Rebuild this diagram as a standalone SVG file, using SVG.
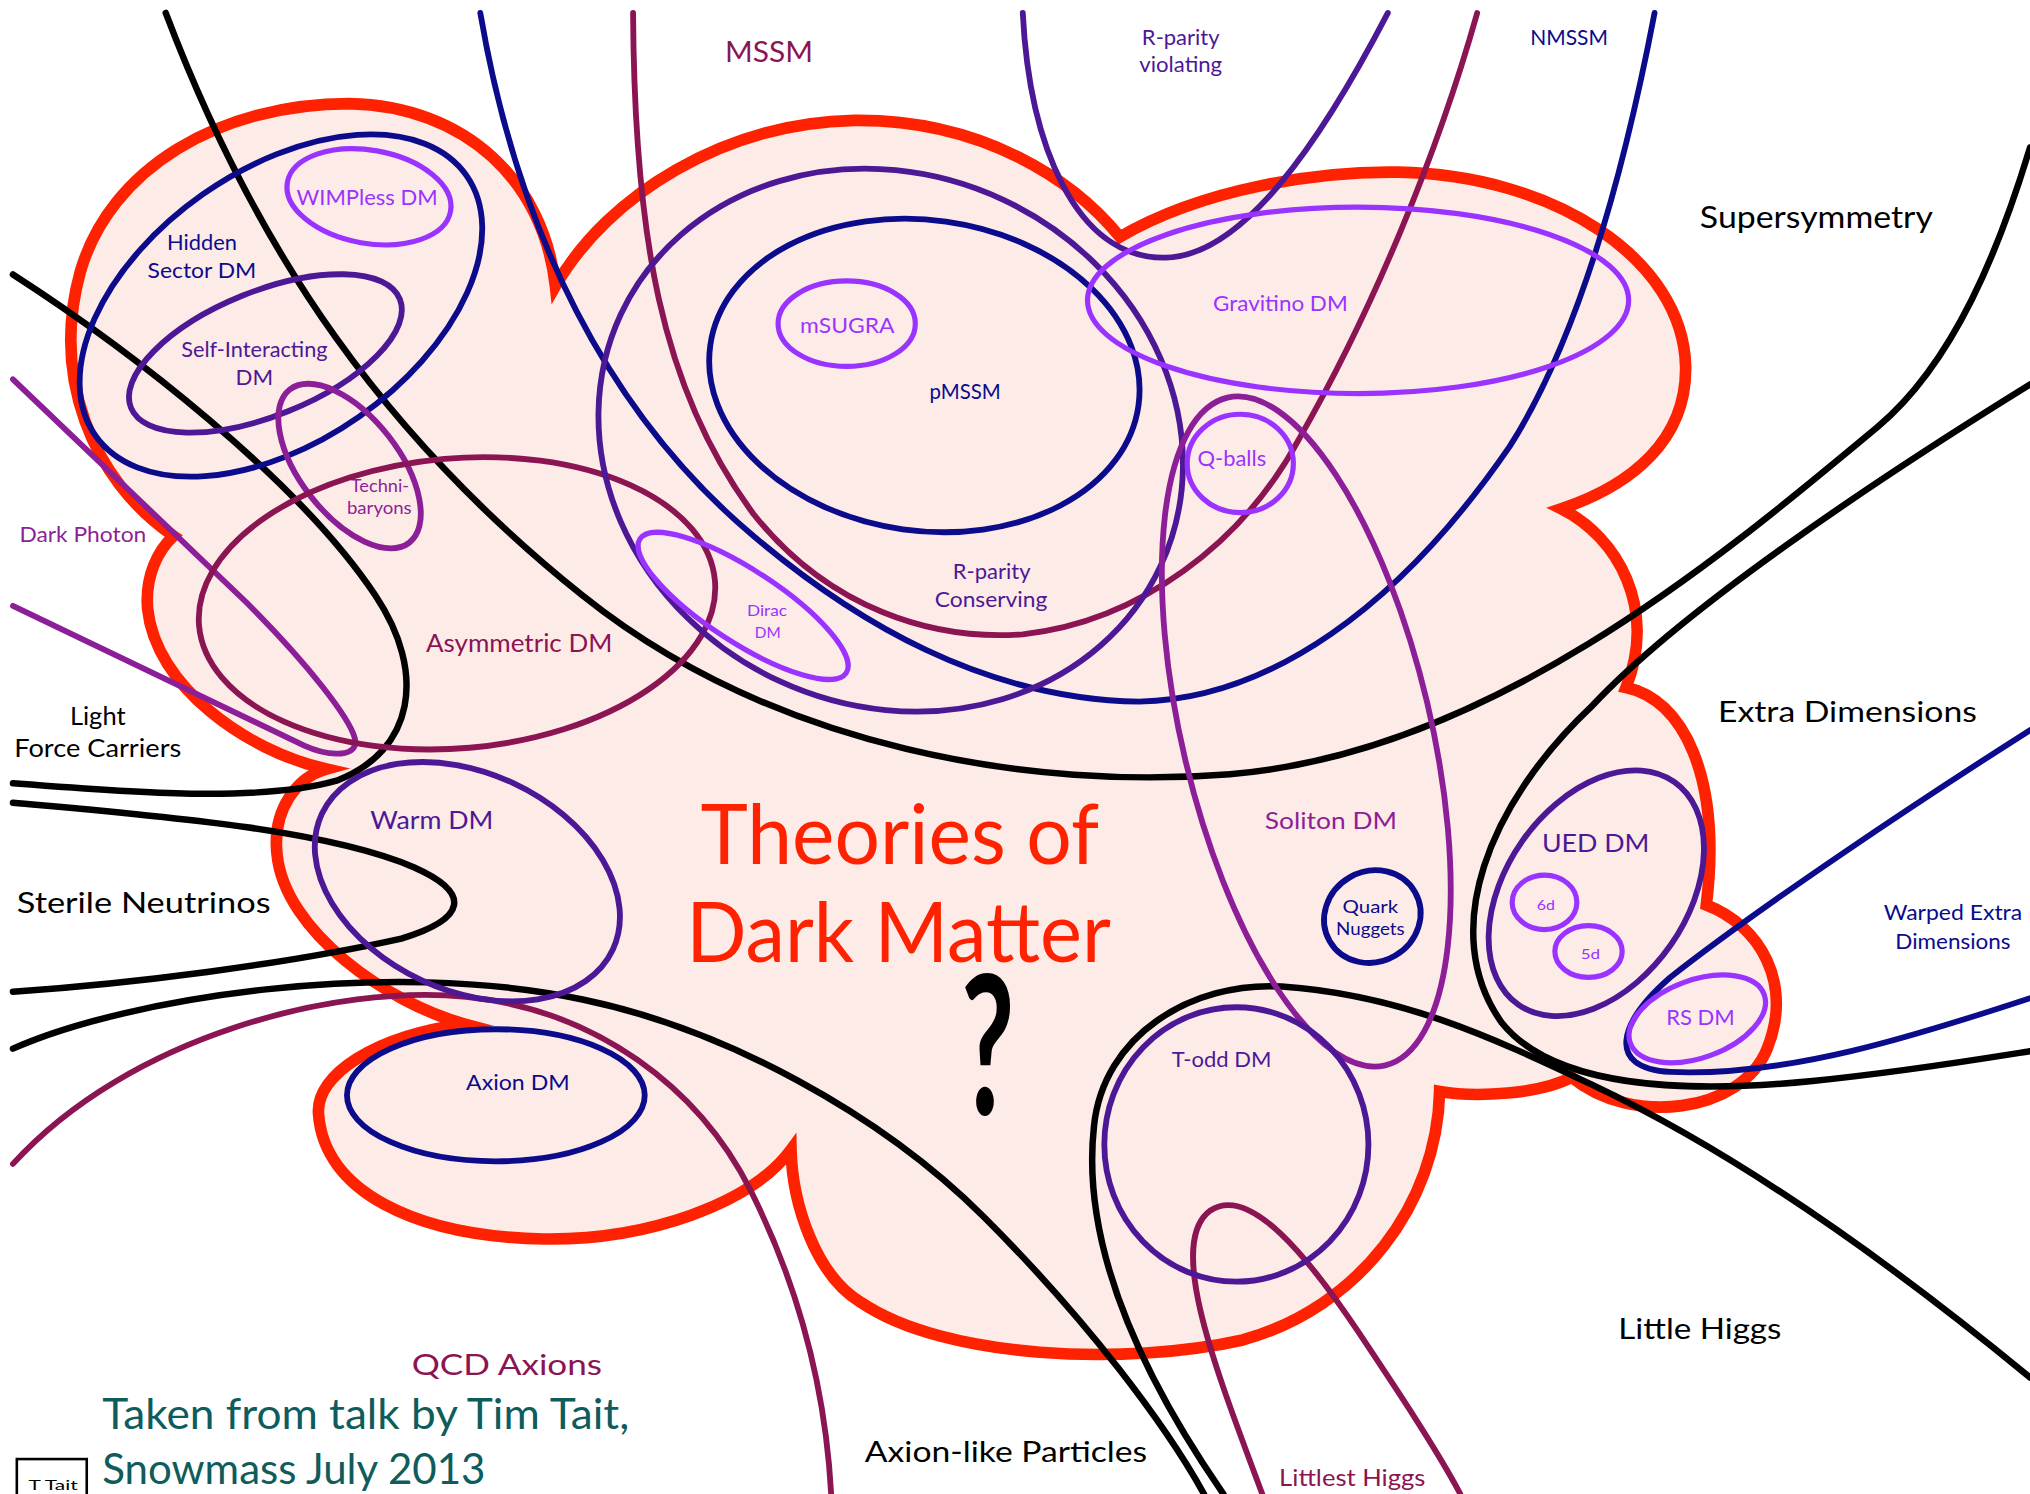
<svg xmlns="http://www.w3.org/2000/svg" width="2030" height="1494" viewBox="0 0 2030 1494">
<style>
text{font-family:Lato,"Open Sans","Liberation Sans",sans-serif}
.ln{fill:none;stroke-width:4.5;stroke-linecap:round}
.k{stroke:#000;stroke-width:5}
.nv{stroke:#0b0b8c}
.in{stroke:#4c1896}
.vi{stroke:#9a33ff;stroke-width:4}
.mg{stroke:#8c1f98}
.mr{stroke:#8b1452}
.tk{fill:#000}
.tnv{fill:#0b0b8c}
.tin{fill:#4c1896}
.tvi{fill:#9a33ff}
.tmg{fill:#8c1f98}
.tmr{fill:#8b1452}
.cloud{fill:#fdebe7;stroke:#ff2200;stroke-width:9;stroke-linejoin:miter;stroke-miterlimit:20}
</style>
<rect width="2030" height="1494" fill="#fff"/>
<g transform="scale(1.29464)">
<g id="cloud">
<path class="cloud" d="M134,414 C70,370 40,290 62,210 C85,130 170,80 270,80 C360,82 420,140 429,221 C470,150 560,95 660,93 C760,92 830,140 865,183 C930,145 1020,132 1080,133 C1200,135 1300,200 1302,283 C1303,340 1260,375 1206,393 C1250,415 1280,470 1256,531 C1300,540 1330,600 1318,699 C1360,715 1385,760 1365,810 C1345,860 1260,870 1214,832 C1190,845 1140,848 1112,843 C1110,930 1050,1010 960,1035 C870,1055 730,1050 665,1006 C630,985 612,930 611,888 C580,930 500,958 420,957 C320,955 250,920 246,860 C244,830 290,800 359,791 C300,775 220,720 214,660 C210,625 230,600 252,594 C190,580 120,530 114,470 C112,445 122,425 134,414 Z"/>
</g>
<g id="connectors">
<path id="supersymmetry-line" class="ln k" d="M128,10 C200,200 300,340 450,460 C600,580 800,610 950,598 C1150,582 1330,430 1450,330 C1510,280 1545,190 1568,114"/>
<path id="light-force-line" class="ln k" d="M10,212 C100,270 230,370 290,460 C330,520 320,580 260,603 C200,620 100,612 10,605"/>
<path id="sterile-line" class="ln k" d="M10,620 C120,630 250,640 320,670 C365,690 360,710 310,725 C220,745 100,760 10,766"/>
<path id="axion-like-line" class="ln k" d="M10,810 C100,770 300,740 450,772 C560,795 680,860 760,940 C840,1020 900,1100 930,1154"/>
<path id="little-higgs-line" class="ln k" d="M945,1154 C880,1060 835,960 845,870 C852,800 920,758 990,762 C1080,768 1150,800 1230,838 C1340,890 1460,975 1568,1064"/>
<path id="extra-dim-line" class="ln k" d="M1568,297 C1450,370 1300,470 1230,545 C1150,620 1110,720 1160,790 C1200,840 1300,845 1400,835 C1470,828 1530,818 1568,812"/>
<path id="nmssm-line" class="ln nv" d="M371,10 C400,180 470,320 582,414 C660,480 760,540 880,542 C980,540 1080,470 1166,345 C1220,260 1255,130 1278,10"/>
<path id="mssm-line" class="ln mr" d="M489,10 C490,180 510,300 582,397 C640,470 720,495 790,490 C880,480 960,420 1004,338 C1060,240 1110,120 1141,10"/>
<path id="rpv-line" class="ln in" d="M790,10 C795,110 830,200 900,199 C960,198 1020,110 1072,10"/>
<path id="dark-photon-line" class="ln mg" d="M10,293 L190,465 C240,515 270,555 274,570 C278,585 255,585 235,576 L10,468"/>
<path id="qcd-axion-line" class="ln mr" d="M10,899 C100,800 260,760 360,770 C460,780 540,840 580,920 C620,1000 638,1080 642,1154"/>
<path id="littlest-higgs-line" class="ln mr" d="M975,1154 C940,1060 900,960 935,935 C965,915 1010,970 1050,1030 C1080,1075 1110,1120 1128,1154"/>
<path id="warped-line" class="ln nv" d="M1568,564 C1480,620 1360,700 1290,755 C1250,790 1240,825 1290,828 C1380,832 1480,800 1568,771"/>
</g>
<g id="hidden-sector"><ellipse class="ln nv" cx="217" cy="236" rx="175" ry="105" transform="rotate(-35 217 236)"/>
<text class="tnv" x="129" y="193" font-size="17" textLength="54" lengthAdjust="spacingAndGlyphs">Hidden</text>
<text class="tnv" x="114" y="215" font-size="17" textLength="84" lengthAdjust="spacingAndGlyphs">Sector DM</text></g>
<g id="wimpless"><ellipse class="ln vi" cx="285" cy="152" rx="64" ry="36" transform="rotate(10 285 152)"/>
<text class="tvi" x="229" y="158" font-size="17" textLength="109" lengthAdjust="spacingAndGlyphs">WIMPless DM</text></g>
<g id="self-interacting"><ellipse class="ln in" cx="205" cy="273" rx="112" ry="48" transform="rotate(-22 205 273)"/>
<text class="tin" x="140" y="276" font-size="16" textLength="113" lengthAdjust="spacingAndGlyphs">Self-Interacting</text>
<text class="tin" x="182" y="297" font-size="16" textLength="29" lengthAdjust="spacingAndGlyphs">DM</text></g>
<g id="technibaryons"><ellipse class="ln mg" cx="270" cy="360" rx="75" ry="38" transform="rotate(52 270 360)"/>
<text class="tmg" x="271" y="380" font-size="13" textLength="45" lengthAdjust="spacingAndGlyphs">Techni-</text>
<text class="tmg" x="268" y="397" font-size="13" textLength="50" lengthAdjust="spacingAndGlyphs">baryons</text></g>
<g id="asymmetric"><ellipse class="ln mr" cx="353" cy="466" rx="200" ry="112" transform="rotate(-5 353 466)"/>
<text class="tmr" x="329" y="504" font-size="19" textLength="144" lengthAdjust="spacingAndGlyphs">Asymmetric DM</text></g>
<g id="rparity-conserving"><ellipse class="ln in" cx="688" cy="340" rx="230" ry="205" transform="rotate(25 688 340)"/>
<text class="tin" x="736" y="447" font-size="17" textLength="60" lengthAdjust="spacingAndGlyphs">R-parity</text>
<text class="tin" x="722" y="469" font-size="17" textLength="87" lengthAdjust="spacingAndGlyphs">Conserving</text></g>
<g id="pmssm"><ellipse class="ln nv" cx="714" cy="290" rx="167" ry="120" transform="rotate(8 714 290)"/>
<text class="tnv" x="718" y="308" font-size="16" textLength="55" lengthAdjust="spacingAndGlyphs">pMSSM</text></g>
<g id="msugra"><ellipse class="ln vi" cx="654" cy="250" rx="53" ry="33"/>
<text class="tvi" x="618" y="257" font-size="17" textLength="73" lengthAdjust="spacingAndGlyphs">mSUGRA</text></g>
<g id="gravitino"><ellipse class="ln vi" cx="1049" cy="232" rx="209" ry="72"/>
<text class="tvi" x="937" y="240" font-size="17" textLength="104" lengthAdjust="spacingAndGlyphs">Gravitino DM</text></g>
<g id="qballs"><ellipse class="ln vi" cx="958" cy="358" rx="41" ry="38"/>
<text class="tvi" x="925" y="360" font-size="16" textLength="53" lengthAdjust="spacingAndGlyphs">Q-balls</text></g>
<g id="dirac"><ellipse class="ln vi" cx="574" cy="468" rx="95" ry="28" transform="rotate(33 574 468)"/>
<text class="tvi" x="577" y="476" font-size="12" textLength="31" lengthAdjust="spacingAndGlyphs">Dirac</text>
<text class="tvi" x="583" y="493" font-size="12" textLength="20" lengthAdjust="spacingAndGlyphs">DM</text></g>
<g id="soliton"><ellipse class="ln mg" cx="1009" cy="565" rx="265" ry="96" transform="rotate(76.7 1009 565)"/>
<text class="tmg" x="977" y="640" font-size="18" textLength="102" lengthAdjust="spacingAndGlyphs">Soliton DM</text></g>
<g id="quark-nuggets"><ellipse class="ln nv" cx="1060" cy="708" rx="38" ry="35" transform="rotate(-30 1060 708)"/>
<text class="tnv" x="1037" y="705" font-size="13" textLength="43" lengthAdjust="spacingAndGlyphs">Quark</text>
<text class="tnv" x="1032" y="722" font-size="13" textLength="53" lengthAdjust="spacingAndGlyphs">Nuggets</text></g>
<g id="warm"><ellipse class="ln in" cx="361" cy="681" rx="124" ry="84" transform="rotate(25 361 681)"/>
<text class="tin" x="286" y="640" font-size="19" textLength="95" lengthAdjust="spacingAndGlyphs">Warm DM</text></g>
<g id="axion-dm"><ellipse class="ln nv" cx="383" cy="846" rx="115" ry="51"/>
<text class="tnv" x="360" y="842" font-size="17" textLength="80" lengthAdjust="spacingAndGlyphs">Axion DM</text></g>
<g id="ued"><ellipse class="ln in" cx="1233" cy="690" rx="105" ry="70" transform="rotate(-55 1233 690)"/>
<text class="tin" x="1191" y="658" font-size="19" textLength="83" lengthAdjust="spacingAndGlyphs">UED DM</text></g>
<g id="ued-6d"><ellipse class="ln vi" cx="1193" cy="697" rx="25" ry="21"/>
<text class="tvi" x="1187" y="703" font-size="11" textLength="14" lengthAdjust="spacingAndGlyphs">6d</text></g>
<g id="ued-5d"><ellipse class="ln vi" cx="1227" cy="735" rx="26" ry="20"/>
<text class="tvi" x="1221" y="741" font-size="11" textLength="15" lengthAdjust="spacingAndGlyphs">5d</text></g>
<g id="rs"><ellipse class="ln vi" cx="1311" cy="787" rx="55" ry="30" transform="rotate(-20 1311 787)"/>
<text class="tvi" x="1287" y="792" font-size="17" textLength="53" lengthAdjust="spacingAndGlyphs">RS DM</text></g>
<g id="todd"><ellipse class="ln in" cx="955" cy="884" rx="102" ry="106"/>
<text class="tin" x="905" y="824" font-size="17" textLength="77" lengthAdjust="spacingAndGlyphs">T-odd DM</text></g>
<g id="labels">
<text class="tmr" x="560" y="48" font-size="23" textLength="68" lengthAdjust="spacingAndGlyphs">MSSM</text>
<text class="tin" x="882" y="35" font-size="16" textLength="60" lengthAdjust="spacingAndGlyphs">R-parity</text>
<text class="tin" x="880" y="56" font-size="16" textLength="64" lengthAdjust="spacingAndGlyphs">violating</text>
<text class="tnv" x="1182" y="35" font-size="16" textLength="60" lengthAdjust="spacingAndGlyphs">NMSSM</text>
<text class="tk" x="1313" y="176" font-size="24" textLength="180" lengthAdjust="spacingAndGlyphs">Supersymmetry</text>
<text class="tmg" x="15" y="419" font-size="17" textLength="98" lengthAdjust="spacingAndGlyphs">Dark Photon</text>
<text class="tk" x="54" y="560" font-size="19" textLength="43" lengthAdjust="spacingAndGlyphs">Light</text>
<text class="tk" x="11" y="585" font-size="19" textLength="129" lengthAdjust="spacingAndGlyphs">Force Carriers</text>
<text class="tk" x="1327" y="558" font-size="23" textLength="200" lengthAdjust="spacingAndGlyphs">Extra Dimensions</text>
<text class="tk" x="13" y="705" font-size="23" textLength="196" lengthAdjust="spacingAndGlyphs">Sterile Neutrinos</text>
<text class="tnv" x="1455" y="711" font-size="16" textLength="107" lengthAdjust="spacingAndGlyphs">Warped Extra</text>
<text class="tnv" x="1464" y="733" font-size="16" textLength="89" lengthAdjust="spacingAndGlyphs">Dimensions</text>
<text fill="#ff2200" x="541" y="667" font-size="64" textLength="308" lengthAdjust="spacingAndGlyphs">Theories of</text>
<text fill="#ff2200" x="530" y="743" font-size="64" textLength="328" lengthAdjust="spacingAndGlyphs">Dark Matter</text>
<text fill="#000" font-family="Liberation Serif,serif" font-weight="bold" font-size="150" text-anchor="middle" transform="translate(763,861) scale(0.6,1)">?</text>
<text class="tk" x="1250" y="1034" font-size="23" textLength="126" lengthAdjust="spacingAndGlyphs">Little Higgs</text>
<text class="tmr" x="318" y="1062" font-size="23" textLength="147" lengthAdjust="spacingAndGlyphs">QCD Axions</text>
<text class="tk" x="668" y="1129" font-size="23" textLength="218" lengthAdjust="spacingAndGlyphs">Axion-like Particles</text>
<text class="tmr" x="988" y="1148" font-size="18" textLength="113" lengthAdjust="spacingAndGlyphs">Littlest Higgs</text>
<text fill="#0e5c5c" x="79" y="1104" font-size="33" textLength="407" lengthAdjust="spacingAndGlyphs">Taken from talk by Tim Tait,</text>
<text fill="#0e5c5c" x="79" y="1146" font-size="33" textLength="296" lengthAdjust="spacingAndGlyphs">Snowmass July 2013</text>
</g>
<g id="tait-box">
<rect x="13" y="1127" width="54" height="40" fill="#fff" stroke="#000" stroke-width="2"/>
<text class="tk" x="22" y="1151" font-size="11" textLength="38" lengthAdjust="spacingAndGlyphs">T Tait</text>
</g>
</g>
</svg>
